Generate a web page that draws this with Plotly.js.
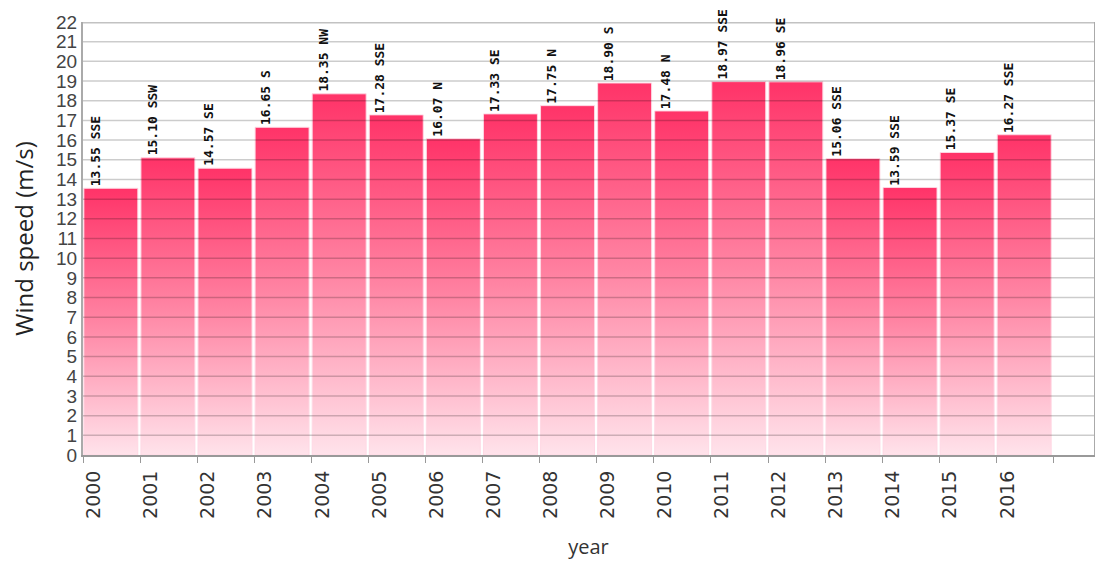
<!DOCTYPE html>
<html><head><meta charset="utf-8">
<script src="https://cdn.plot.ly/plotly-3.0.1.min.js"></script>
<style>html,body{margin:0;padding:0;background:#fff}#chart{width:1095px;height:565px}</style>
</head><body><div id="chart"></div>
<script>
const years = ['2000','2001','2002','2003','2004','2005','2006','2007','2008','2009','2010','2011','2012','2013','2014','2015','2016'];
const speeds = [13.55,15.10,14.57,16.65,18.35,17.28,16.07,17.33,17.75,18.90,17.48,18.97,18.96,15.06,13.59,15.37,16.27];
const directions = ['SSE','SSW','SE','S','NW','SSE','N','SE','N','S','N','SSE','SE','SSE','SSE','SE','SSE'];
const yTicks = [0,1,2,3,4,5,6,7,8,9,10,11,12,13,14,15,16,17,18,19,20,21,22];

const traces = years.map((yr, i) => {
  const v = speeds[i];
  const a = i + 0.015, b = i + 0.96;
  return {
    type: 'scatter', mode: 'lines',
    x: [a, a, b, b, a], y: [0, v, v, 0, 0],
    fill: 'toself',
    fillgradient: {type: 'vertical', colorscale: [[0, '#ffe3eb'], [0.5, '#ff84a3'], [1, '#ff3368']]},
    line: {color: 'rgba(255,215,228,0.95)', width: 1},
    hoverinfo: 'skip', showlegend: false, name: yr
  };
});

const annotations = years.map((yr, i) => ({
  x: i + 0.06, y: speeds[i], xref: 'x', yref: 'y',
  text: speeds[i].toFixed(2) + ' ' + directions[i],
  textangle: -90, showarrow: false, xanchor: 'left', yanchor: 'bottom',
  yshift: 1, borderpad: 0,
  font: {family: 'DejaVu Sans Mono', size: 13, color: '#111', weight: 'bold'}
}));

const shapes = yTicks.filter(t => t > 0).map(t => ({
  type: 'line', xref: 'paper', x0: 0, x1: 1, yref: 'y', y0: t, y1: t,
  layer: 'above',
  line: t === 22 ? {color: '#c2c2c2', width: 3} : {color: 'rgba(0,0,0,0.2)', width: 1.5}
}));

const xTickVals = years.map((_, i) => i).concat([years.length]);
const xTickText = years.concat(['']);

const layout = {
  width: 1095, height: 565,
  margin: {l: 83, r: 1, t: 22, b: 110},
  paper_bgcolor: '#fff', plot_bgcolor: '#fff',
  showlegend: false,
  xaxis: {
    range: [0, 17.71], tickmode: 'array', tickvals: xTickVals, ticktext: xTickText,
    tickangle: -90, ticks: 'outside', ticklen: 6, tickcolor: '#999', tickwidth: 1,
    ticklabelshift: 11,
    showgrid: false, zeroline: false, showline: true, linecolor: '#999', linewidth: 2,
    tickfont: {family: 'DejaVu Sans', size: 19, color: '#333'},
    title: {text: 'year', font: {family: 'Open Sans', size: 20, color: '#333'}, standoff: 22},
    fixedrange: true
  },
  yaxis: {
    range: [0, 22], tickmode: 'array', tickvals: yTicks,
    showgrid: false, zeroline: false, showline: true, mirror: true, linecolor: '#aaa', linewidth: 2,
    ticks: '', tickfont: {family: 'Liberation Sans', size: 19, color: '#444'},
    title: {text: 'Wind speed (m/s)', font: {family: 'Open Sans', size: 24, color: '#222'}, standoff: 16},
    fixedrange: true
  },
  shapes: shapes,
  annotations: annotations
};

Plotly.newPlot('chart', traces, layout, {displayModeBar: false, staticPlot: true});
</script>
</body></html>
